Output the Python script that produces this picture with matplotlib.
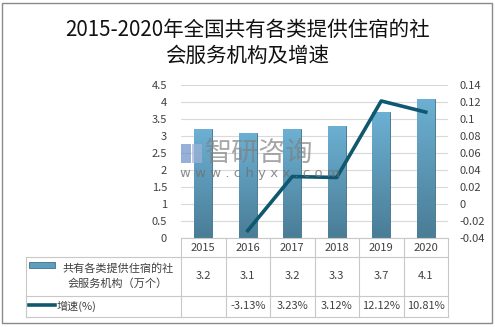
#!/usr/bin/env python3
"""2015-2020 social service institutions providing accommodation, with growth rate."""

import matplotlib

matplotlib.use("Agg")

import matplotlib.pyplot as plt
import numpy as np
from matplotlib.colors import LinearSegmentedColormap
from matplotlib.patches import Rectangle
from matplotlib.transforms import blended_transform_factory

plt.rcParams["font.family"] = ["Noto Sans CJK SC", "DejaVu Sans"]

YEARS = ["2015", "2016", "2017", "2018", "2019", "2020"]
COUNT = [3.2, 3.1, 3.2, 3.3, 3.7, 4.1]
GROWTH = [None, -0.0313, 0.0323, 0.0312, 0.1212, 0.1081]
GROWTH_LABELS = ["", "-3.13%", "3.23%", "3.12%", "12.12%", "10.81%"]
LEFT_TICKS = [0, 0.5, 1, 1.5, 2, 2.5, 3, 3.5, 4, 4.5]
RIGHT_TICKS = [-0.04, -0.02, 0, 0.02, 0.04, 0.06, 0.08, 0.1, 0.12, 0.14]

TITLE = "2015-2020年全国共有各类提供住宿的社\n会服务机构及增速"
SERIES_BAR = "共有各类提供住宿的社\n会服务机构（万个）"
SERIES_LINE = "增速(%)"

W, H = 495, 327
INK = "#404040"
GRID = "#d9d9d9"
LINE = "#0f5870"
TABLE = "#c8c8c8"


def fx(px):
    return px / W


def fy(py):
    return 1 - py / H


fig = plt.figure(figsize=(W / 100, H / 100), dpi=100)
fig.patch.set_facecolor("white")

# outer frame
fig.add_artist(Rectangle((fx(2), fy(323)), fx(490), 320 / H, transform=fig.transFigure,
                         fill=False, edgecolor="#8a8a8a", lw=1.0))

fig.text(0.5, fy(43), TITLE, ha="center", va="center", fontsize=14.8,
         color="#111111", linespacing=1.25)

ax = fig.add_axes([fx(181), fy(238), fx(448 - 181), (238 - 85) / H])
x = np.arange(len(YEARS))

bars = ax.bar(x, COUNT, width=0.4, color="#5d9dbd", edgecolor="#3f6f88", lw=0.6, zorder=2)
cmap = LinearSegmentedColormap.from_list("bar", ["#4a7d96", "#6cb0d3"])
grad = np.linspace(0, 1, 100).reshape(-1, 1)
for b in bars:
    im = ax.imshow(grad, cmap=cmap, origin="lower", aspect="auto", zorder=2.5,
                   extent=(b.get_x(), b.get_x() + b.get_width(), 0, b.get_height()))
    im.set_clip_path(b)

ax.set_xlim(-0.5, len(YEARS) - 0.5)
ax.set_ylim(0, 4.5)
ax.set_yticks(LEFT_TICKS)
ax.set_yticklabels([f"{v:g}" for v in LEFT_TICKS])
ax.set_xticks([])
ax.grid(axis="y", color=GRID, lw=0.8, zorder=0)
ax.set_axisbelow(True)
ax.tick_params(axis="y", length=0, pad=10, labelsize=8, labelcolor=INK)
for s in ax.spines.values():
    s.set_visible(False)

ax2 = ax.twinx()
gx = [i for i, g in enumerate(GROWTH) if g is not None]
gy = [g for g in GROWTH if g is not None]
ax2.plot(gx, gy, color=LINE, lw=2.6, zorder=5)
ax2.set_ylim(-0.04, 0.14)
ax2.set_yticks(RIGHT_TICKS)
ax2.set_yticklabels([f"{v:g}" for v in RIGHT_TICKS])
ax2.tick_params(axis="y", length=0, pad=8, labelsize=8, labelcolor=INK)
for s in ax2.spines.values():
    s.set_visible(False)

# watermark
fig.text(fx(205), fy(153), "智研咨询", ha="left", va="center", fontsize=19.5,
         color="#808080", alpha=0.7)
fig.text(fx(180), fy(174), "w w w . c h y x x . c o m", ha="left", va="center", fontsize=9.5,
         color="#707070", alpha=0.8, family="DejaVu Sans")
fig.add_artist(Rectangle((fx(181), fy(163)), fx(10), 19 / H, transform=fig.transFigure,
                         facecolor="#6b8fc8", edgecolor="none", alpha=0.7))
fig.add_artist(Rectangle((fx(192), fy(163)), fx(10), 19 / H, transform=fig.transFigure,
                         facecolor="#9fb3d8", edgecolor="none", alpha=0.7))

# data table below the plot
tr = blended_transform_factory(ax.transData, fig.transFigure)
n = len(YEARS)
for i in range(n + 1):
    fig.add_artist(plt.Line2D([i - 0.5, i - 0.5], [fy(238), fy(317)], transform=tr,
                              color=TABLE, lw=0.8))
fig.add_artist(plt.Line2D([fx(181), fx(448)], [fy(238), fy(238)], transform=fig.transFigure,
                          color=TABLE, lw=0.8))
for py in (257, 296, 317):
    fig.add_artist(plt.Line2D([fx(26), fx(448)], [fy(py), fy(py)], transform=fig.transFigure,
                              color=TABLE, lw=0.8))
fig.add_artist(plt.Line2D([fx(26), fx(26)], [fy(257), fy(317)], transform=fig.transFigure,
                          color=TABLE, lw=0.8))

for i, (yr, c, g) in enumerate(zip(YEARS, COUNT, GROWTH_LABELS)):
    fig.text(i, fy(248), yr, transform=tr, ha="center", va="center", fontsize=8, color=INK)
    fig.text(i, fy(276), f"{c:g}", transform=tr, ha="center", va="center", fontsize=8, color=INK)
    fig.text(i, fy(306), g, transform=tr, ha="center", va="center", fontsize=8, color=INK)

fig.add_artist(Rectangle((fx(29), fy(268)), fx(26), 6 / H, transform=fig.transFigure,
                         facecolor="#5d9dbd", edgecolor="#3f6f88", lw=0.6))
fig.text(fx(118), fy(276), SERIES_BAR, ha="center", va="center", fontsize=8,
         color=INK, linespacing=1.5)
fig.add_artist(plt.Line2D([fx(29), fx(55)], [fy(305), fy(305)], transform=fig.transFigure,
                          color=LINE, lw=2.6))
fig.text(fx(57), fy(306), SERIES_LINE, ha="left", va="center", fontsize=8, color=INK)

fig.savefig("out.png", dpi=100)
